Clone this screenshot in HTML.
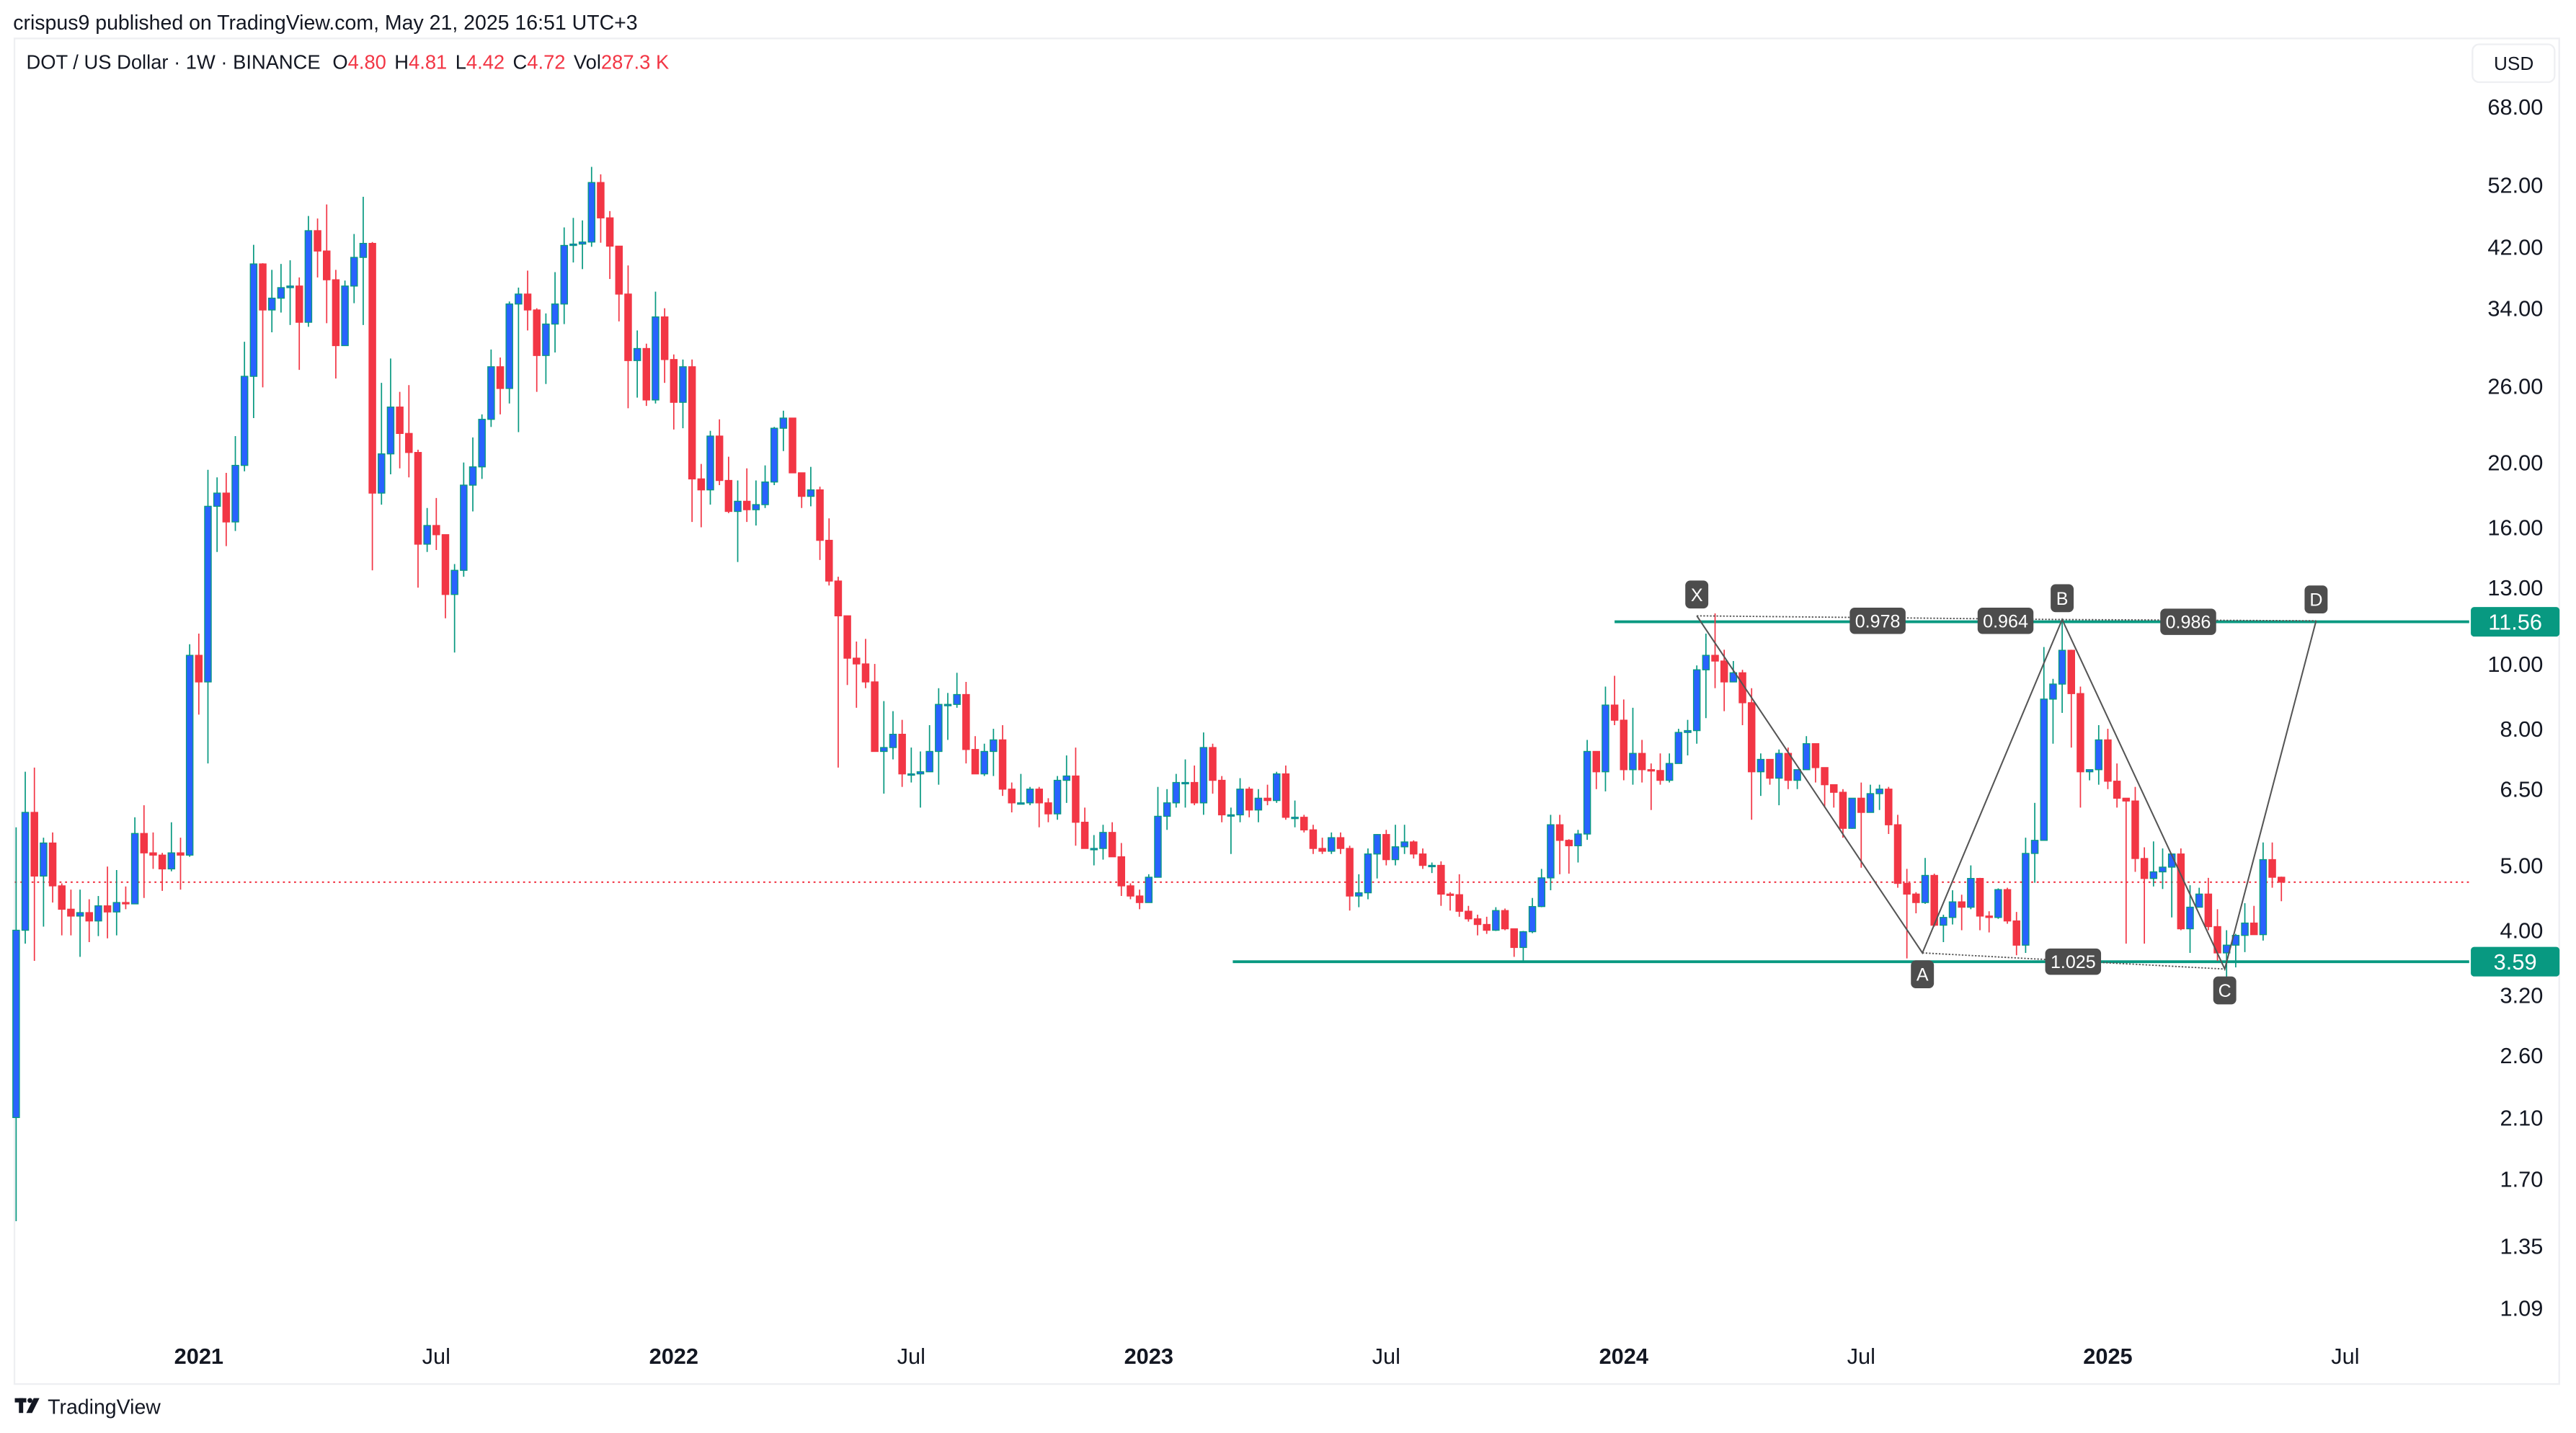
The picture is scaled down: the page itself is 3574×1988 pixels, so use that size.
<!DOCTYPE html>
<html><head><meta charset="utf-8"><title>DOT / US Dollar 1W</title>
<style>
html,body{margin:0;padding:0;background:#fff;}
svg{display:block;font-family:"Liberation Sans",Arial,sans-serif;}
</style></head>
<body>
<svg id="chart" width="3574" height="1988" viewBox="0 0 1568 872.2" xmlns="http://www.w3.org/2000/svg">
<rect x="0" y="0" width="1568" height="872.2" fill="#ffffff"/>
<text x="8" y="18" font-size="12.5" fill="#131722">crispus9 published on TradingView.com, May 21, 2025 16:51 UTC+3</text>
<rect x="8.8" y="23.4" width="1549" height="819" fill="none" stroke="#eeeff2" stroke-width="1"/>
<text x="16" y="42" font-size="12" fill="#131722">DOT / US Dollar · 1W · BINANCE <tspan dx="4">O</tspan><tspan fill="#f23645">4.80</tspan><tspan dx="5">H</tspan><tspan fill="#f23645">4.81</tspan><tspan dx="5">L</tspan><tspan fill="#f23645">4.42</tspan><tspan dx="5">C</tspan><tspan fill="#f23645">4.72</tspan><tspan dx="5">Vol</tspan><tspan fill="#f23645">287.3 K</tspan></text>
<g>
<rect x="1505" y="27" width="50" height="23" rx="4" fill="#fff" stroke="#eeeff2"/>
<text x="1518" y="42.5" font-size="11.5" fill="#131722">USD</text>
</g>
<g id="yaxis"></g>
<g id="xaxis"></g>
<g id="levels"></g>
<g id="candles"></g>
<g id="pattern"></g>
<g>
<rect x="9" y="851" width="7" height="2.6" fill="#131722"/>
<rect x="11.5" y="851" width="2.6" height="9" fill="#131722"/>
<circle cx="18.2" cy="852.4" r="1.5" fill="#131722"/>
<polygon points="20.5,851 24,851 19.5,860 16,860" fill="#131722"/>
<text x="29" y="860.5" font-size="12.5" fill="#131722">TradingView</text>
</g>
</svg>
<script>
const firstOpen = 2.10;
const closes = [4.0,6.0,4.82,5.4,4.66,4.3,4.2,4.25,4.13,4.35,4.26,4.4,4.38,5.58,5.22,5.18,4.94,5.22,5.18,10.3,9.4,17.2,18.0,16.3,19.8,26.9,39.6,33.8,35.2,36.5,36.7,32.4,44.4,41.4,37.5,29.9,36.7,40.5,42.5,18.0,20.6,24.2,22.1,20.7,15.1,16.1,15.6,12.7,13.8,18.5,19.7,23.2,27.8,25.8,34.5,35.7,33.8,28.9,32.2,34.5,42.2,42.4,42.7,52.4,46.4,42.1,35.7,28.4,29.6,24.8,
33,28.5,24.6,27.8,18.9,
18.2,21.9,18.8,16.9,17.5,17.0,17.3,18.7,22.5,23.3,19.3,17.8,18.2,15.3,13.3,11.8,10.2,10.0,9.4,7.4,7.5,7.85,6.85,6.85,6.9,7.4,8.7,8.7,9.0,7.45,6.85,7.4,7.7,6.5,6.2,6.2,6.5,6.2,5.97,6.7,6.8,5.8,5.3,5.3,5.6,5.15,4.66,4.5,4.4,4.8,5.92,6.2,6.65,6.65,6.2,7.5,6.7,5.95,5.95,6.5,6.05,6.3,6.25,6.85,5.9,5.9,5.65,5.3,5.25,5.5,5.3,4.5,4.55,5.2,
5.56,5.1,5.33,5.42,5.2,5.0,5.0,4.53,4.52,4.27,4.16,4.08,4.0,4.28,4.02,3.77,3.98,4.34,4.79,5.75,5.45,5.35,5.57,7.4,6.9,8.68,8.24,6.95,7.35,6.95,6.93,6.7,7.1,7.9,7.95,9.8,10.3,10.1,9.4,9.7,8.75,6.9,7.2,6.75,7.35,6.7,6.95,7.6,7.0,6.6,6.43,5.68,6.3,6.0,6.4,6.5,5.75,4.7,4.53,4.4,4.83,4.07,4.18,4.41,4.33,4.78,4.2,4.18,4.6,4.13,3.8,5.21,5.45,8.86,9.33,10.48,9.03,6.9,6.95,7.7,6.68,6.3,6.24,5.12,4.78,4.89,4.97,5.2,4.02,4.33,4.53,4.05,3.7,3.8,3.93,4.1,3.94,5.1,4.80,4.72];
const highs = [5.7,6.9,7.0,5.5,5.6,4.7,4.6,4.6,4.45,4.5,4.98,4.92,4.65,5.9,6.15,5.6,5.22,5.8,5.5,10.7,11.1,19.5,19.0,19.3,21.9,30.3,42.3,39.7,38.8,39.6,40.1,37.8,46.7,46.3,48.6,38.8,37.4,43.9,49.9,42.7,26.3,28.6,25.5,26.1,20.9,17.1,17.7,15.6,14.1,20.0,21.8,23.6,29.5,28.7,34.8,36.5,38.7,34.0,33.4,38.5,44.9,46.4,46.0,55.3,53.9,47.5,42.1,39.4,31.5,30.1,
36,34,29,28.5,28.5,
19.9,22.3,23.2,20.4,18.8,19.6,18.8,19.8,22.6,23.9,23.2,19.3,19.7,18.4,16.5,13.5,11.8,10.8,10.9,10.0,8.8,8.5,8.25,7.5,7.4,8.1,9.2,9.05,9.7,9.4,7.8,7.6,8.0,8.1,6.65,6.85,6.55,6.55,6.3,6.8,7.3,7.5,6.1,5.55,5.75,5.8,5.4,4.7,4.6,4.85,6.55,6.5,6.85,7.2,7.05,7.9,7.6,6.8,6.1,6.75,6.55,6.5,6.6,6.9,7.05,6.25,5.95,5.75,5.5,5.6,5.6,5.35,4.85,5.3,
5.57,5.65,5.75,5.75,5.45,5.3,5.05,5.07,4.56,4.85,4.35,4.22,4.19,4.33,4.31,4.02,3.99,4.47,4.94,5.95,5.95,5.47,5.65,7.7,7.4,9.25,9.6,8.85,8.6,7.7,7.1,7.35,7.35,8.0,8.25,9.95,11.1,11.9,10.5,10.1,9.8,9.2,7.35,7.2,7.45,7.5,6.95,7.8,7.6,7.0,6.6,6.5,6.3,6.65,6.6,6.6,6.55,5.95,4.94,4.56,5.13,4.86,4.22,4.59,4.52,5.0,4.79,4.27,4.62,4.63,4.26,5.5,6.2,10.6,9.5,11.6,10.5,9.25,6.95,8.1,8.0,7.1,6.3,6.55,5.32,5.43,5.3,5.21,5.3,4.67,4.63,4.79,4.3,4.0,3.95,4.39,4.35,5.41,5.41,4.81];
const lows = [1.47,3.82,3.6,4.05,4.4,3.93,3.93,3.65,3.84,3.92,3.89,3.93,4.3,4.38,4.47,4.94,4.58,4.9,4.6,5.15,8.4,7.1,14.7,15.0,15.8,19.4,23.3,25.9,31.3,33.5,32.1,27.5,31.9,37.8,32.3,26.7,29.9,34.6,32.1,13.8,17.3,19.2,19.6,19.0,13.0,14.7,14.8,11.7,10.4,13.5,16.9,18.9,22.6,23.6,24.5,22.2,31.5,25.5,26.2,29.2,32.2,39.8,38.9,42.0,42.6,37.6,32.5,24.1,25.0,24.3,
24.5,26.3,22.4,22.5,16.3,
16.0,17.3,18.5,16.8,14.2,16.3,16.1,17.1,18.5,20.8,19.3,17.1,17.2,14.3,13.1,7.0,9.3,8.6,9.2,7.4,6.4,7.2,6.55,6.65,6.1,6.95,6.6,7.7,8.6,7.1,6.85,6.8,6.8,6.35,6.0,6.2,6.15,5.7,5.8,5.85,6.2,5.35,5.3,5.0,5.1,5.15,4.5,4.45,4.3,4.4,4.85,5.65,6.1,6.1,6.15,5.95,6.4,5.8,5.2,5.8,5.9,5.8,6.15,6.2,5.85,5.7,5.6,5.2,5.2,5.2,5.2,4.28,4.33,4.45,
4.78,5.0,5.0,5.2,5.12,4.94,4.87,4.35,4.28,4.19,4.12,3.93,3.95,3.99,4.0,3.65,3.58,3.96,4.33,4.59,4.85,4.86,5.05,5.46,6.5,6.45,8.1,6.7,6.6,6.65,6.05,6.6,6.65,7.1,7.3,7.6,8.3,9.2,8.5,9.45,8.1,5.85,6.35,6.6,6.15,6.5,6.5,6.95,6.65,6.1,6.1,5.5,5.67,4.96,6.0,6.05,5.57,4.63,3.63,4.24,4.38,4.05,3.84,4.08,4.0,4.3,4.0,3.97,4.16,4.09,3.67,3.7,4.71,5.45,7.6,8.45,7.5,6.1,6.7,6.6,6.5,6.1,3.82,4.89,3.82,4.65,4.61,4.18,4.0,3.7,4.33,4.0,3.6,3.3,3.52,3.71,3.94,3.86,4.63,4.42];
const priceTicks = [68,52,42,34,26,20,16,13,10,8,6.5,5,4,3.2,2.6,2.1,1.7,1.35,1.09];
const timeTickLabels = ['2021','Jul','2022','Jul','2023','Jul','2024','Jul','2025','Jul'];
const timeTickWeeks = [20,46,72,98,124,150,176,202,229,255];
const timeTickBold = [true,false,true,false,true,false,true,false,true,false];
const lastPrice = 4.72;
const levelPrices = [11.56, 3.59];
const levelStartWeeks = [175, 133.2];
const patternLabels = ['X','A','B','C','D'];
const patternWeeks = [184.0, 208.7, 224.0, 241.8, 251.8];
const patternPrices = [11.8, 3.70, 11.65, 3.50, 11.6];
const ratioLabels = ['0.978','0.964','0.986','1.025'];
const ratioWeeks = [203.8, 217.8, 237.8, 225.2];
const ratioPrices = [11.6, 11.6, 11.56, 3.59];

const NS = 'http://www.w3.org/2000/svg';
const X0 = 9.8, STEP = 5.56, PLOT_R = 1503;
function xOf(w){ return X0 + w*STEP; }
function yOf(p){ return 65 + (Math.log(68) - Math.log(p))*176.9; }
function mk(tag, attrs, parent){ const e=document.createElementNS(NS,tag); for(const k in attrs) e.setAttribute(k,attrs[k]); parent.appendChild(e); return e; }

const yaxis=document.getElementById('yaxis');
priceTicks.forEach(p=>{
  const t=mk('text',{x:1548,y:yOf(p)+4.8,'font-size':13.5,'text-anchor':'end',fill:'#131722'},yaxis);
  
  
  t.textContent=p.toFixed(2);
});
const xaxis=document.getElementById('xaxis');
timeTickLabels.forEach((lab,i)=>{
  const t=mk('text',{x:xOf(timeTickWeeks[i]),y:830,'font-size':13.5,'text-anchor':'middle',fill:'#131722','font-weight':timeTickBold[i]?'bold':'normal'},xaxis);
  
  
  t.textContent=lab;
});
const lv=document.getElementById('levels');
const lp=mk('line',{x1:9,x2:PLOT_R,y1:yOf(lastPrice),y2:yOf(lastPrice),stroke:'#f23645','stroke-width':0.9,'stroke-dasharray':'1.2 2.2'},lv);


levelPrices.forEach((p,i)=>{
  const l=mk('line',{x1:xOf(levelStartWeeks[i]),x2:PLOT_R,y1:yOf(p),y2:yOf(p),stroke:'#089981','stroke-width':1.7},lv);
  
  
  const r=mk('rect',{x:1504,y:yOf(p)-9,width:54,height:18,rx:2,fill:'#089981'},lv);
  
  
  const t=mk('text',{x:1531,y:yOf(p)+4.8,'font-size':13.5,'text-anchor':'middle',fill:'#fff'},lv);
  
  
  t.textContent=p.toFixed(2);
});
const cg=document.getElementById('candles');
for(let i=0;i<closes.length;i++){
  const o = i===0 ? firstOpen : closes[i-1];
  const c = closes[i];
  const up = c>=o;
  const hi = Math.max(highs[i],o,c), lo=Math.min(lows[i],o,c);
  const x = xOf(i);
  const col = up ? '#089981' : '#f23645';
  const w=mk('line',{x1:x,x2:x,y1:yOf(hi),y2:yOf(lo),stroke:col,'stroke-width':0.75},cg);
  
  
  const yt=yOf(Math.max(o,c)), yb=yOf(Math.min(o,c));
  const b=mk('rect',{x:x-2,y:yt,width:4,height:Math.max(yb-yt,0.8),fill:up?'#2962ff':'#f23645',stroke:col,'stroke-width':0.6},cg);
  
  
}
const pg=document.getElementById('pattern');
const pts=patternWeeks.map((w,i)=>[xOf(w),yOf(patternPrices[i])]);
const pl=mk('polyline',{points:pts.map(p=>p.join(',')).join(' '),fill:'none',stroke:'#555','stroke-width':0.9},pg);


[[0,2],[1,3],[2,4]].forEach(([a,b])=>{
  const d=mk('line',{x1:pts[a][0],y1:pts[a][1],x2:pts[b][0],y2:pts[b][1],stroke:'#555','stroke-width':0.8,'stroke-dasharray':'1 1'},pg);
  
  
});
ratioLabels.forEach((lab,i)=>{
  const cx=xOf(ratioWeeks[i]), cy=yOf(ratioPrices[i]);
  const r=mk('rect',{x:cx-17,y:cy-8,width:34,height:16,rx:3,fill:'#4d4d4d'},pg);
  
  
  const t=mk('text',{x:cx,y:cy+4,'font-size':11,'text-anchor':'middle',fill:'#fff'},pg);
  
  
  t.textContent=lab;
});
patternLabels.forEach((lab,i)=>{
  const top = (i%2===0);
  const cx=pts[i][0], cy= top ? pts[i][1]-13 : pts[i][1]+13;
  const r=mk('rect',{x:cx-7,y:cy-8.5,width:14,height:17,rx:3,fill:'#4d4d4d'},pg);
  
  
  const t=mk('text',{x:cx,y:cy+4,'font-size':11,'text-anchor':'middle',fill:'#fff'},pg);
  
  
  t.textContent=lab;
});
</script>
</body></html>
